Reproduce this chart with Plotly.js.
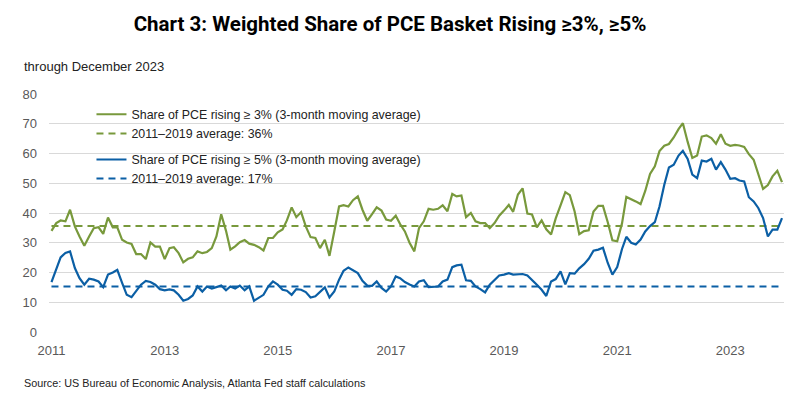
<!DOCTYPE html>
<html>
<head>
<meta charset="utf-8">
<script src="https://cdn.plot.ly/plotly-3.0.1.min.js"></script>
<style>html,body{margin:0;padding:0;background:#fff;}#chart{width:802px;height:405px;}</style>
</head>
<body>
<div id="chart"></div>
<script>
// Monthly observations, January 2011 through December 2023
const startYear = 2011;
const share3 = [
34.0,36.6,37.5,37.2,41.1,35.5,32.1,29.0,32.1,34.9,35.2,33.0,
38.5,35.2,35.2,31.0,30.1,29.6,26.2,26.2,24.5,30.1,28.7,28.7,
24.5,28.2,28.5,26.5,23.4,24.6,25.1,27.1,26.5,26.9,28.2,32.1,
39.6,34.0,27.7,28.8,30.2,30.9,29.7,29.3,28.5,27.4,31.6,31.6,
33.5,34.5,37.5,41.9,38.6,40.3,35.5,31.9,31.6,28.2,31.0,25.6,
33.8,42.2,42.6,42.2,44.3,45.6,41.1,37.4,39.6,41.9,40.8,37.8,
37.4,39.1,36.3,33.8,30.0,27.1,34.9,37.2,41.4,41.1,41.4,42.6,
40.6,46.4,45.6,45.9,38.6,40.0,37.2,36.6,36.6,34.9,36.6,39.1,
40.8,42.7,40.4,46.2,48.3,39.8,39.5,35.2,37.5,34.5,32.8,38.2,
42.6,47.0,46.0,40.5,32.9,33.9,34.2,40.5,42.4,42.4,36.9,30.8,
30.5,36.5,45.4,44.7,43.9,43.0,47.4,53.1,55.7,60.8,62.6,63.2,
65.4,68.2,70.2,63.9,58.5,59.3,65.7,66.1,65.2,63.3,66.5,63.3,
62.6,62.9,62.7,62.2,59.8,57.9,53.1,48.1,49.4,52.3,54.2,50.4
];
const share5 = [
16.8,20.9,25.1,26.6,27.1,21.5,18.1,15.9,17.9,17.6,17.0,15.1,
19.3,20.0,20.9,16.5,12.5,11.7,13.6,15.9,17.2,16.8,15.9,14.4,
14.0,14.3,14.0,12.5,10.5,11.1,12.3,15.3,13.6,15.3,14.6,15.0,
15.6,14.0,15.3,14.6,15.6,14.0,15.3,10.5,11.4,12.5,15.3,17.0,
15.9,14.2,13.9,12.5,14.4,14.2,13.4,11.6,12.0,13.4,15.0,11.6,
13.6,17.6,20.6,21.7,20.9,19.8,17.2,15.6,15.5,17.0,14.8,13.6,
15.3,18.7,18.1,16.8,16.0,15.3,17.0,17.4,15.1,15.1,15.3,17.0,
17.6,21.8,22.4,22.6,17.4,17.2,15.3,14.4,13.3,15.9,17.4,19.0,
19.3,19.8,19.3,19.3,19.5,19.0,17.6,15.9,14.2,12.1,17.0,17.8,
20.4,16.0,19.8,19.6,21.4,22.8,24.6,27.3,27.7,28.3,23.2,19.3,
21.8,27.9,32.0,30.0,29.4,31.1,33.8,35.6,36.9,42.2,49.5,55.3,
56.2,59.3,60.9,58.2,52.9,51.7,57.6,57.3,58.2,54.6,57.1,54.6,
51.5,51.7,50.9,50.6,45.3,43.9,41.7,38.3,32.1,34.4,34.4,38.3
];
const avg3 = 35.6;   // 2011-2019 average as drawn
const avg5 = 15.3;
const tickYears = [2011, 2013, 2015, 2017, 2019, 2021, 2023];
const yTicks = [0, 10, 20, 30, 40, 50, 60, 70, 80];
const legendNames = [
  "Share of PCE rising \u2265 3% (3-month moving average)",
  "2011\u20132019 average: 36%",
  "Share of PCE rising \u2265 5% (3-month moving average)",
  "2011\u20132019 average: 17%"
];

const months = share3.map((_, i) => {
  const y = startYear + Math.floor(i / 12);
  const m = (i % 12) + 1;
  return y + "-" + String(m).padStart(2, "0") + "-01";
});
const first = months[0], last = months[months.length - 1];

const GREEN = "#78993c", BLUE = "#0b5fa5";
const FONT = "Liberation Sans, Arial, sans-serif";

const traces = [
  {x: months, y: share3, type: "scatter", mode: "lines", name: legendNames[0],
   line: {color: GREEN, width: 2.2}, legendgroup: "a"},
  {x: [first, last], y: [avg3, avg3], type: "scatter", mode: "lines", name: legendNames[1],
   line: {color: GREEN, width: 2, dash: "7px,5px"}, legendgroup: "a"},
  {x: months, y: share5, type: "scatter", mode: "lines", name: legendNames[2],
   line: {color: BLUE, width: 2.2}, legendgroup: "b"},
  {x: [first, last], y: [avg5, avg5], type: "scatter", mode: "lines", name: legendNames[3],
   line: {color: BLUE, width: 2, dash: "7px,5px"}, legendgroup: "b"}
];

const L = 48.5, R = 784, T = 94.3, B = 332.3, W = 802, H = 405;
const px = v => (v - L) / (R - L);
const py = v => (B - v) / (B - T);

const layout = {
  width: W, height: H,
  margin: {l: L, r: W - R, t: T, b: H - B, pad: 0},
  paper_bgcolor: "#fff", plot_bgcolor: "#fff",
  font: {family: FONT, size: 13, color: "#222"},
  title: {text: "Chart 3: Weighted Share of PCE Basket Rising \u22653%, \u22655%",
          font: {family: "Roboto, sans-serif", size: 20.5, color: "#000", weight: "bold"},
          x: 390 / W, xanchor: "center", xref: "container",
          y: 1 - 24 / H, yanchor: "middle", yref: "container"},
  xaxis: {type: "date", range: ["2010-12-16", "2023-12-14"],
          tickvals: tickYears.map(y => y + "-01-01"), ticktext: tickYears.map(String),
          showgrid: false, zeroline: false, showline: false, ticks: "",
          ticklabelstandoff: 9,
          tickfont: {family: FONT, size: 13, color: "#595959"}},
  yaxis: {range: [0, 80], tickvals: yTicks, ticktext: yTicks.map(String),
          showgrid: true, gridcolor: "#d9d9d9", gridwidth: 1,
          zeroline: false, showline: false, ticks: "", ticklabelstandoff: 11,
          tickfont: {family: FONT, size: 13, color: "#595959"}},
  showlegend: true,
  legend: {x: px(91), xanchor: "left", y: py(100), yanchor: "top",
           bgcolor: "rgba(0,0,0,0)", borderwidth: 0,
           font: {family: FONT, size: 12.4, color: "#222"},
           traceorder: "grouped", tracegroupgap: 7, itemwidth: 30},
  annotations: [
    {text: "through December 2023", xref: "paper", yref: "paper",
     x: px(21), y: py(67), xanchor: "left", yanchor: "middle", showarrow: false,
     font: {family: FONT, size: 13, color: "#222"}},
    {text: "Source: US Bureau of Economic Analysis, Atlanta Fed staff calculations",
     xref: "paper", yref: "paper", x: px(21), y: py(383), xanchor: "left", yanchor: "middle",
     showarrow: false, font: {family: FONT, size: 10.8, color: "#222"}}
  ],
  hovermode: false
};

Plotly.newPlot("chart", traces, layout, {displayModeBar: false, staticPlot: true});
</script>
</body>
</html>
